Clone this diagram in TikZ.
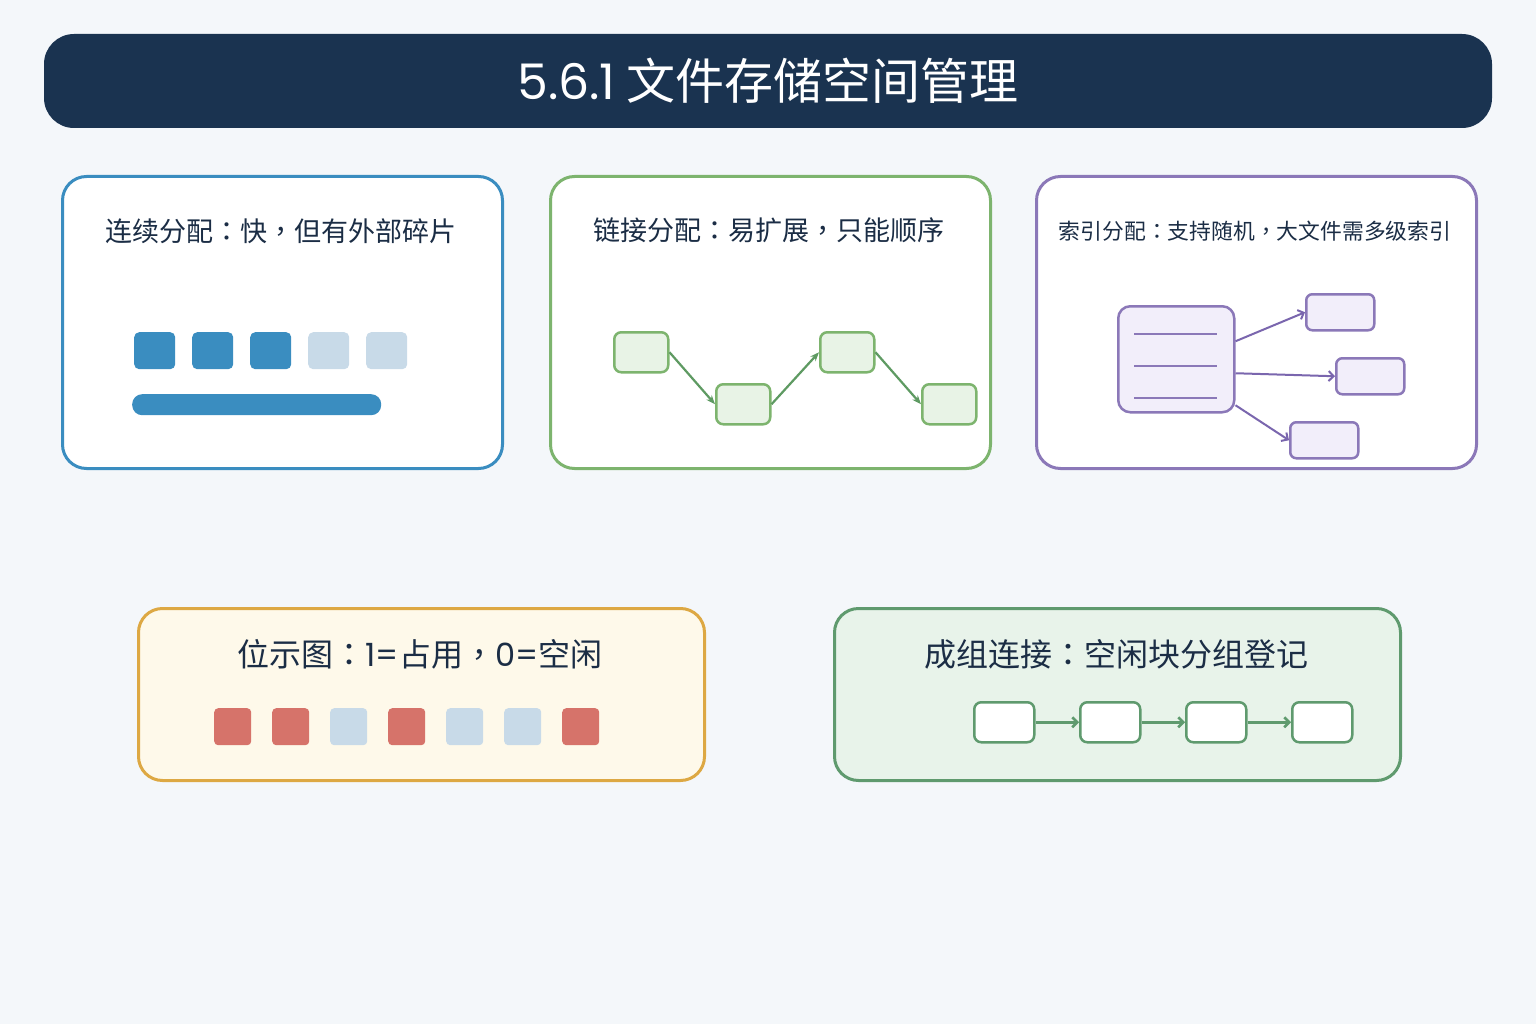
\documentclass[tikz,border=0pt]{standalone}
\usepackage{fontspec}
\setmainfont{Noto Sans CJK SC}
\newfontfamily\latinf{Poppins}
\newfontfamily\tcp{Noto Sans CJK TC}
\newcommand{\pcolon}{{\tcp ：}}
\newcommand{\pcomma}{{\tcp ，}}
\usetikzlibrary{arrows.meta}
\definecolor{bg}{HTML}{F4F7FA}
\definecolor{navy}{HTML}{1A3350}
\definecolor{ink}{HTML}{1B2D45}
\definecolor{blueA}{HTML}{3A8DC0}
\definecolor{blueL}{HTML}{C8DAE8}
\definecolor{greenA}{HTML}{7DB46E}
\definecolor{greenF}{HTML}{E8F3E6}
\definecolor{greenD}{HTML}{5E9A62}
\definecolor{purA}{HTML}{8B78B8}
\definecolor{purF}{HTML}{F2EEFA}
\definecolor{purD}{HTML}{7A66AE}
\definecolor{gold}{HTML}{DDA843}
\definecolor{goldF}{HTML}{FEF9EA}
\definecolor{redA}{HTML}{D6736A}
\definecolor{grpA}{HTML}{5F9A6E}
\definecolor{grpF}{HTML}{E8F3EA}
\begin{document}
\begin{tikzpicture}[x=1pt,y=-1pt,
  panel/.style={draw, line width=3pt, rounded corners=24pt, anchor=north west, inner sep=0pt},
  ptitle/.style={text=ink, inner sep=0pt},
  sq/.style={anchor=north west, inner sep=0pt, rounded corners=5pt, minimum width=41pt, minimum height=37pt},
  bsq/.style={anchor=north west, inner sep=0pt, rounded corners=4pt, minimum width=37pt, minimum height=37pt},
  gbox/.style={draw=greenA, fill=greenF, line width=2.5pt, rounded corners=7pt, anchor=north west, inner sep=0pt, minimum width=54pt, minimum height=40pt},
  pbox/.style={draw=purA, fill=purF, line width=2.5pt, rounded corners=6pt, anchor=north west, inner sep=0pt, minimum width=68pt, minimum height=36pt},
  wbox/.style={draw=grpA, fill=white, line width=2.5pt, rounded corners=7pt, anchor=north west, inner sep=0pt, minimum width=60pt, minimum height=40pt},
  garrow/.style={draw=greenD, line width=2.2pt, -{Stealth[length=9pt,width=7pt]}},
  parrow/.style={draw=purD, line width=2pt, -{Straight Barb[length=5pt,width=10pt]}},
  karrow/.style={draw=grpA, line width=2.5pt, -{Straight Barb[length=5pt,width=10pt]}}
]
\path[use as bounding box, fill=bg] (0,0) rectangle (1536,1024);

% title bar
\node[fill=navy, rounded corners=30pt, minimum width=1448pt, minimum height=94pt, inner sep=0pt] (bar) at (768,81) {};
\node[text=white, font=\fontsize{49}{56}\selectfont, inner sep=0pt] (title) at (768,81) {{\latinf 5.6.1} 文件存储空间管理};

% panel 1: contiguous
\node[panel, draw=blueA, fill=white, minimum width=440pt, minimum height=292pt] (p1) at (61,175) {};
\node[ptitle, font=\fontsize{27}{32}\selectfont] (t1) at (281,231) {连续分配\pcolon 快\pcomma 但有外部碎片};
\node[sq, fill=blueA] (c1) at (134,332) {};
\node[sq, fill=blueA] (c2) at (192,332) {};
\node[sq, fill=blueA] (c3) at (250,332) {};
\node[sq, fill=blueL] (c4) at (308,332) {};
\node[sq, fill=blueL] (c5) at (366,332) {};
\node[fill=blueA, rounded corners=10pt, anchor=north west, inner sep=0pt, minimum width=249pt, minimum height=21pt] (cbar) at (132,394) {};

% panel 2: linked
\node[panel, draw=greenA, fill=white, minimum width=440pt, minimum height=292pt] (p2) at (549,175) {};
\node[ptitle, font=\fontsize{27}{32}\selectfont] (t2) at (769,230) {链接分配\pcolon 易扩展\pcomma 只能顺序};
\node[gbox] (l1) at (613,331) {};
\node[gbox] (l2) at (715,383) {};
\node[gbox] (l3) at (819,331) {};
\node[gbox] (l4) at (921,383) {};
\draw[garrow] (l1.east) -- (l2.west);
\draw[garrow] (l2.east) -- (l3.west);
\draw[garrow] (l3.east) -- (l4.west);

% panel 3: indexed
\node[panel, draw=purA, fill=white, minimum width=440pt, minimum height=292pt] (p3) at (1035,175) {};
\node[ptitle, font=\fontsize{21.8}{26}\selectfont] (t3) at (1255,231) {索引分配\pcolon 支持随机\pcomma 大文件需多级索引};
\node[draw=purA, fill=purF, line width=2.5pt, rounded corners=12pt, anchor=north west, inner sep=0pt, minimum width=116pt, minimum height=106pt] (idx) at (1117,305) {};
\draw[purA, line width=2.5pt] (1134,334) -- (1217,334);
\draw[purA, line width=2.5pt] (1134,366) -- (1217,366);
\draw[purA, line width=2.5pt] (1134,398) -- (1217,398);
\node[pbox] (q1) at (1305,293) {};
\node[pbox] (q2) at (1335,357) {};
\node[pbox] (q3) at (1289,421) {};
\draw[parrow] ([yshift=18pt]idx.east) -- (q1.west);
\draw[parrow] ([yshift=-14pt]idx.east) -- (q2.west);
\draw[parrow] ([yshift=-46pt]idx.east) -- (q3.west);

% panel 4: bitmap
\node[panel, draw=gold, fill=goldF, minimum width=566pt, minimum height=172pt] (p4) at (137,607) {};
\node[ptitle, font=\fontsize{32}{38}\selectfont] (t4) at (420,654) {位示图\pcolon{\latinf 1=}占用\pcomma{\latinf 0=}空闲};
\node[bsq, fill=redA] (m1) at (214,708) {};
\node[bsq, fill=redA] (m2) at (272,708) {};
\node[bsq, fill=blueL] (m3) at (330,708) {};
\node[bsq, fill=redA] (m4) at (388,708) {};
\node[bsq, fill=blueL] (m5) at (446,708) {};
\node[bsq, fill=blueL] (m6) at (504,708) {};
\node[bsq, fill=redA] (m7) at (562,708) {};

% panel 5: grouped linking
\node[panel, draw=grpA, fill=grpF, minimum width=566pt, minimum height=172pt] (p5) at (833,607) {};
\node[ptitle, font=\fontsize{32}{38}\selectfont] (t5) at (1116,654) {成组连接\pcolon 空闲块分组登记};
\node[wbox] (g1) at (973,701) {};
\node[wbox] (g2) at (1079,701) {};
\node[wbox] (g3) at (1185,701) {};
\node[wbox] (g4) at (1291,701) {};
\draw[karrow] (g1.east) -- (g2.west);
\draw[karrow] (g2.east) -- (g3.west);
\draw[karrow] (g3.east) -- (g4.west);
\end{tikzpicture}
\end{document}
